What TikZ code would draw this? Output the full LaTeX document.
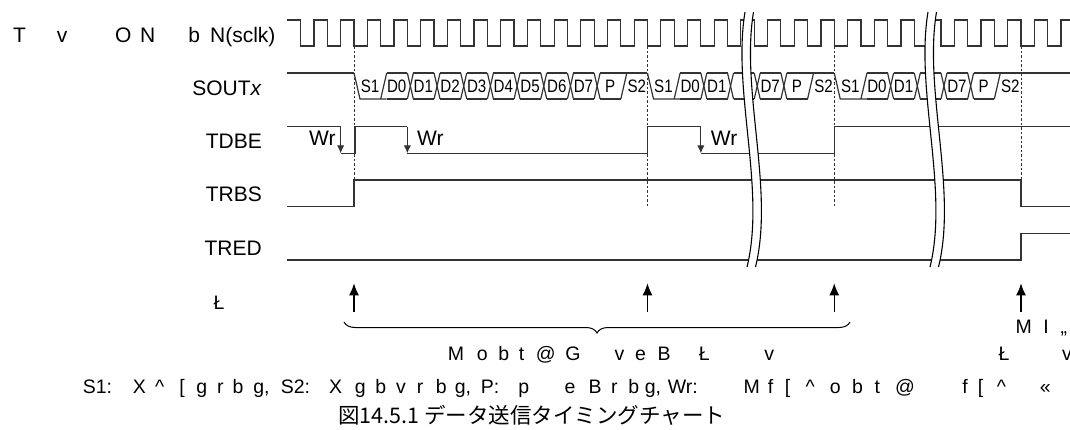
\documentclass[tikz,border=0pt]{standalone}
\usepackage{graphicx}
\usepackage{fontspec}
\setmainfont{Liberation Sans}
\newfontfamily\jpfont{Noto Sans CJK JP}
\usetikzlibrary{arrows.meta,decorations.pathreplacing}
\newcommand\gc[2]{\rlap{\hspace*{#1pt}#2}}
\definecolor{wavecol}{HTML}{333333}
\begin{document}
\begin{tikzpicture}[x=1pt,y=-1pt,
  wave/.style={draw=wavecol,line width=1.2pt,line join=miter},
  guide/.style={draw=wavecol,line width=0.8pt,dash pattern=on 2.5pt off 2pt},
  lbl/.style={font=\fontsize{21}{24}\selectfont,inner sep=0pt,anchor=base east},
  txt/.style={font=\fontsize{19.5}{22}\selectfont,inner sep=0pt,anchor=base west},
  bit/.style={font=\fontsize{18}{20}\selectfont,inner sep=0pt},
  wrtxt/.style={font=\fontsize{21}{23}\selectfont,inner sep=0pt,anchor=base west},
  wrarrow/.style={draw=wavecol,line width=1.2pt,-{Latex[length=8pt,width=7.5pt]}},
  evarrow/.style={draw=black,line width=1.3pt,-{Latex[length=12pt,width=10pt]}},
  breakline/.style={draw=black,line width=1.1pt}
]
\useasboundingbox[fill=white] (0,0) rectangle (1070,429);
\def\bT{26.68}
% ---------------- clock ----------------
\draw[wave] (287.3,20) foreach \k in {-2,...,26} { -- ({354+\k*\bT},20) -- ({354+\k*\bT},46) -- ({354+(\k+0.5)*\bT},46) -- ({354+(\k+0.5)*\bT},20) } -- (1070,20);
% ---------------- SOUTx ----------------
\draw[wave] (287,73) -- (354,73);
\foreach \f in {0,11,18} {
  \draw[wave] ({354+\f*\bT},73) -- ({354+\f*\bT+6},99) -- ({354+(\f+1)*\bT+6},99);
  \draw[wave] ({354+(\f+1)*\bT},99) -- ({354+(\f+1)*\bT+6},73);
}
\foreach \k in {1,2,3,4,5,6,7,8,9,12,13,14,15,16,19,20,21,22,23} {
  \draw[wave] ({354+\k*\bT+6},73) -- ({354+(\k+1)*\bT},73);
  \draw[wave] ({354+\k*\bT+6},99) -- ({354+(\k+1)*\bT},99);
}
\foreach \k in {2,3,4,5,6,7,8,9,13,14,15,16,20,21,22,23} {
  \draw[wave] ({354+\k*\bT},73) -- ({354+\k*\bT+6},99);
  \draw[wave] ({354+\k*\bT},99) -- ({354+\k*\bT+6},73);
}
\foreach \s in {10,17,24} {
  \draw[wave] ({354+\s*\bT},73) -- ({354+(\s+1)*\bT},73);
  \draw[wave] ({354+\s*\bT},99) -- ({354+\s*\bT+6},73);
}
\draw[wave] ({354+25*\bT},73) -- (1070,73);
\foreach \k/\s in {0/S1,1/D0,2/D1,3/D2,4/D3,5/D4,6/D5,7/D6,8/D7,9/P,10/S2,
                   11/S1,12/D0,13/D1,15/D7,16/P,17/S2,
                   18/S1,19/D0,20/D1,22/D7,23/P,24/S2}
  \node[bit] (bit\k) at ({354+\k*\bT+16},86.5) {\scalebox{0.84}[1]{\s}};
% ---------------- TDBE ----------------
\draw[wave] (287,126.7) -- ({354-0.5*\bT},126.7);
\draw[wrarrow] ({354-0.5*\bT},126.7) -- ({354-0.5*\bT},153.3);
\draw[wave] ({354-0.5*\bT},153.3) -- (355,153.3) -- (355,126.7) -- ({354+2*\bT},126.7);
\draw[wrarrow] ({354+2*\bT},126.7) -- ({354+2*\bT},153.3);
\draw[wave] ({354+2*\bT},153.3) -- ({354+11*\bT},153.3) -- ({354+11*\bT},126.7) -- ({354+13*\bT},126.7);
\draw[wrarrow] ({354+13*\bT},126.7) -- ({354+13*\bT},153.3);
\draw[wave] ({354+13*\bT},153.3) -- ({354+18*\bT},153.3) -- ({354+18*\bT},126.7) -- (1070,126.7);
\node[wrtxt] (wr1) at (309,145) {Wr};
\node[wrtxt] (wr2) at (417,145) {Wr};
\node[wrtxt] (wr3) at (710.7,145) {Wr};
% ---------------- TRBS / TRED ----------------
\draw[wave] (287,206.7) -- (354,206.7) -- (354,180) -- ({354+25*\bT},180) -- ({354+25*\bT},206.7) -- (1070,206.7);
\draw[wave] (287,260) -- ({354+25*\bT},260) -- ({354+25*\bT},233.3) -- (1070,233.3);
% ---------------- guides ----------------
\draw[guide] (354,46) -- (354,180);
\draw[guide] ({354+11*\bT},46) -- ({354+11*\bT},206);
\draw[guide] ({354+18*\bT},46) -- ({354+18*\bT},206);
\draw[guide] ({354+25*\bT},46) -- ({354+25*\bT},180);
% ---------------- breaks ----------------
\foreach \dx in {0,183} {
  \begin{scope}[xshift=\dx]
    \fill[white] (745,12) .. controls (732,90) and (766,190) .. (747,267) -- (755.5,267) .. controls (774.5,190) and (740.5,90) .. (753.5,12) -- cycle;
    \draw[breakline] (745,12) .. controls (732,90) and (766,190) .. (747,267);
    \draw[breakline] (753.5,12) .. controls (740.5,90) and (774.5,190) .. (755.5,267);
  \end{scope}
}
% ---------------- event arrows and brace ----------------
\foreach \k in {0,11,18,25}
  \draw[evarrow] ({354+\k*\bT},311.7) -- ({354+\k*\bT},283.3);
\draw[decorate,decoration={brace,mirror,amplitude=11pt},line width=1pt,black] (344,322) -- (850,322);
% ---------------- labels ----------------
\node[lbl,anchor=base west] (clklbl) at (13,42) {\gc{0}{T}\gc{43.7}{v}\gc{102}{O}\gc{127}{N}\gc{175.3}{b}\gc{197}{N(sclk)}\hspace*{259pt}};
\node[lbl] (soutlbl) at (262,95) {SOUT\textit{x}};
\node[lbl] (tdbelbl) at (262,148.3) {TDBE};
\node[lbl] (trbslbl) at (262,201.7) {TRBS};
\node[lbl] (tredlbl) at (262,255) {TRED};
\node[txt] (evlbl) at (213.5,309) {Ł};
\node[txt] (framelbl) at (447.7,360) {\gc{0}{M}\gc{29}{o}\gc{50.5}{b}\gc{71}{t}\gc{88}{@}\gc{117.5}{G}\gc{166.7}{v}\gc{187.3}{e}\gc{209.7}{B}\gc{251}{Ł}\gc{316.5}{v}\hspace*{326pt}};
\node[txt] (endlbla) at (1015.5,333) {\gc{0}{M}\gc{27.6}{I}\gc{44.8}{„}\hspace*{54pt}};
\node[txt] (endlblb) at (998.3,360) {\gc{0}{Ł}\gc{63.7}{v}\hspace*{72pt}};
\node[txt] (note) at (82.6,393) {\gc{0}{S1:}\gc{50}{X}\gc{72.4}{\^{}}\gc{96.5}{[}\gc{113.7}{g}\gc{134.3}{r}\gc{149.8}{b}\gc{170.5}{g,}\gc{198}{S2:}\gc{246.3}{X}\gc{272.1}{g}\gc{292.7}{b}\gc{313.4}{v}\gc{334.1}{r}\gc{353}{b}\gc{372}{g,}\gc{398}{P:}\gc{435.6}{p}\gc{481.8}{e}\gc{505.9}{B}\gc{528.3}{r}\gc{545.5}{b}\gc{562}{g,}\gc{585}{Wr:}\gc{660.9}{M}\gc{685}{f}\gc{702.2}{[}\gc{722.9}{\^{}}\gc{747}{o}\gc{769.4}{b}\gc{791.8}{t}\gc{812.4}{@}\gc{879.6}{f}\gc{895.1}{[}\gc{914}{\^{}}\gc{957}{«}\hspace*{966pt}};
\node[inner sep=0pt,anchor=base west,font=\jpfont\fontsize{21.5}{24}\selectfont] (caption) at (338,423) {図14.5.1 データ送信タイミングチャート};
\end{tikzpicture}
\end{document}
